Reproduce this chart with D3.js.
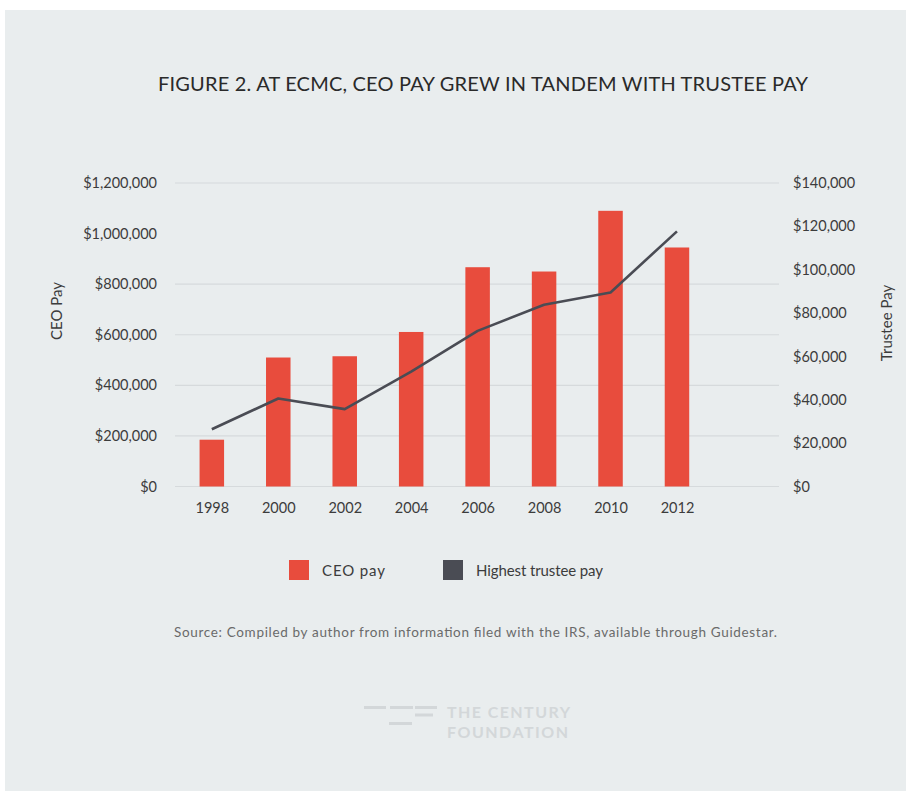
<!DOCTYPE html>
<html>
<head>
<meta charset="utf-8">
<script src="https://cdn.jsdelivr.net/npm/d3@7"></script>
<style>
  html, body { margin: 0; padding: 0; background: #ffffff; }
  svg { display: block; }
  text { font-family: Lato, "Open Sans", sans-serif; }
</style>
</head>
<body>
<svg id="chart" width="906" height="791"></svg>
<script>
// ---- data ----
const years = ["1998", "2000", "2002", "2004", "2006", "2008", "2010", "2012"];
const ceoPay = [185000, 510000, 515000, 611000, 867000, 850000, 1090000, 945000];
const trusteePay = [26400, 40600, 35700, 53000, 71800, 83800, 89500, 117700];
const leftTicks = [0, 200000, 400000, 600000, 800000, 1000000, 1200000];
const rightTicks = [0, 20000, 40000, 60000, 80000, 100000, 120000, 140000];
const gridValues = [0, 200000, 400000, 600000, 800000, 1200000];
const legendItems = ["CEO pay", "Highest trustee pay"];

const title = "FIGURE 2. AT ECMC, CEO PAY GREW IN TANDEM WITH TRUSTEE PAY";
const source = "Source: Compiled by author from information filed with the IRS, available through Guidestar.";

// ---- styling ----
const bg = "#e9edee";
const red = "#e84c3d";
const dark = "#4a4c54";
const textCol = "#3c3c3c";

const svg = d3.select("#chart");
svg.append("rect").attr("x", 5).attr("y", 10).attr("width", 901).attr("height", 781).attr("fill", bg);

const plotLeft = 175, plotRight = 779, plotTop = 183, plotBottom = 486.5;

const x = d3.scalePoint().domain(years).range([178.6, 710.2]).padding(0.5);
const yL = d3.scaleLinear().domain([0, 1200000]).range([plotBottom, plotTop]);
const yR = d3.scaleLinear().domain([0, 140000]).range([plotBottom, plotTop]);
const fmt = d3.format("$,");

// title
svg.append("text").attr("x", 483).attr("y", 91).attr("text-anchor", "middle")
  .attr("font-size", 20).attr("fill", "#2a2a2a")
  .attr("textLength", 650).attr("lengthAdjust", "spacing").text(title);

// gridlines
svg.append("g").selectAll("line").data(gridValues).join("line")
  .attr("x1", plotLeft).attr("x2", plotRight)
  .attr("y1", d => yL(d)).attr("y2", d => yL(d))
  .attr("stroke", "#d6dadc").attr("stroke-width", 1.2);

// left axis
const gL = svg.append("g").attr("transform", `translate(${plotLeft - 18},0)`)
  .call(d3.axisLeft(yL).tickValues(leftTicks).tickFormat(fmt).tickSize(0).tickPadding(0));
gL.select(".domain").remove();
gL.selectAll("text").attr("font-size", 14.5).attr("fill", textCol).attr("font-family", "Lato, sans-serif");

// right axis
const gR = svg.append("g").attr("transform", `translate(${plotRight + 14},0)`)
  .call(d3.axisRight(yR).tickValues(rightTicks).tickFormat(fmt).tickSize(0).tickPadding(0));
gR.select(".domain").remove();
gR.selectAll("text").attr("font-size", 14.5).attr("fill", textCol).attr("font-family", "Lato, sans-serif");

// x axis
const gX = svg.append("g").attr("transform", `translate(0,${plotBottom + 16})`)
  .call(d3.axisBottom(x).tickSize(0).tickPadding(0));
gX.select(".domain").remove();
gX.selectAll("text").attr("font-size", 14.5).attr("fill", textCol).attr("font-family", "Lato, sans-serif").attr("dy", "0.71em");

// axis titles
svg.append("text").attr("transform", "translate(62,311) rotate(-90)").attr("text-anchor", "middle")
  .attr("font-size", 15).attr("fill", textCol).text("CEO Pay");
svg.append("text").attr("transform", "translate(892,323) rotate(-90)").attr("text-anchor", "middle")
  .attr("font-size", 15).attr("fill", textCol).text("Trustee Pay");

// bars
const barW = 24.5;
svg.append("g").selectAll("rect").data(years).join("rect")
  .attr("x", (d) => x(d) - barW / 2)
  .attr("width", barW)
  .attr("y", (d, i) => yL(ceoPay[i]))
  .attr("height", (d, i) => yL(0) - yL(ceoPay[i]))
  .attr("fill", red);

// line
const line = d3.line().x((d, i) => x(years[i])).y(d => yR(d));
svg.append("path").datum(trusteePay).attr("d", line)
  .attr("fill", "none").attr("stroke", dark).attr("stroke-width", 2.6).attr("stroke-linejoin", "round");

// legend
const legendX = [289, 443];
const legendCol = [red, dark];
const lg = svg.append("g");
lg.selectAll("rect").data(legendItems).join("rect")
  .attr("x", (d, i) => legendX[i]).attr("y", 560).attr("width", 20).attr("height", 20)
  .attr("fill", (d, i) => legendCol[i]);
lg.selectAll("text").data(legendItems).join("text")
  .attr("x", (d, i) => legendX[i] + 33).attr("y", 576)
  .attr("font-size", 15).attr("fill", textCol)
  .attr("textLength", (d, i) => [63, 127][i]).attr("lengthAdjust", "spacing").text(d => d);

// source
svg.append("text").attr("x", 174).attr("y", 637)
  .attr("font-size", 13.5).attr("fill", "#6a6a6a")
  .attr("textLength", 603).attr("lengthAdjust", "spacing").text(source);

// logo
const logo = svg.append("g").attr("fill", "#d3d7d9");
const logoBars = [[364, 706, 22], [390, 706, 23], [415, 706, 22], [415, 713.5, 18], [389, 722, 23]];
logo.selectAll("rect").data(logoBars).join("rect")
  .attr("x", d => d[0]).attr("y", d => d[1]).attr("width", d => d[2]).attr("height", 3);
logo.append("text").attr("x", 447).attr("y", 718).attr("font-size", 16).attr("font-weight", 700)
  .attr("textLength", 123).attr("lengthAdjust", "spacing").text("THE CENTURY");
logo.append("text").attr("x", 447).attr("y", 737.5).attr("font-size", 16).attr("font-weight", 700)
  .attr("textLength", 121).attr("lengthAdjust", "spacing").text("FOUNDATION");
</script>
</body>
</html>
